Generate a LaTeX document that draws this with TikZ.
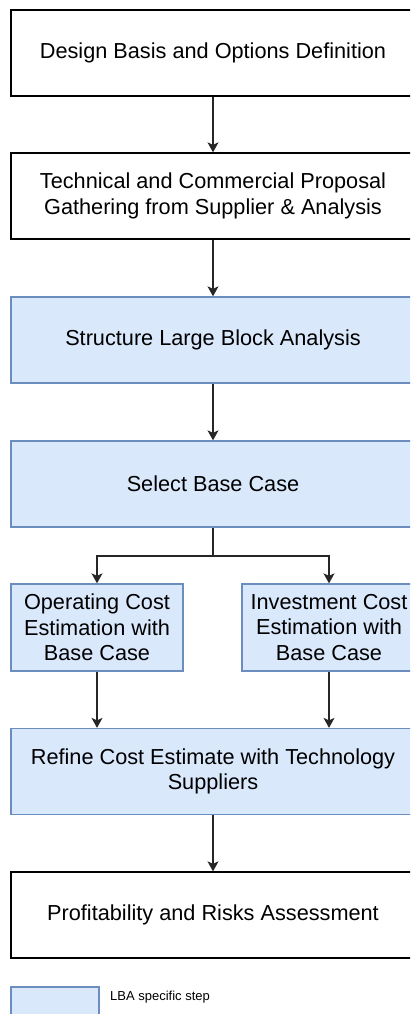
\documentclass[tikz,border=0pt]{standalone}
\usepackage{fontspec}
\setmainfont{Liberation Sans}
\usetikzlibrary{arrows.meta}
\definecolor{lbafill}{HTML}{DAE8FC}
\definecolor{lbaline}{HTML}{6C8EBF}
\tikzset{
  stepbox/.style={draw=black, fill=white, line width=1.3pt, rectangle,
    minimum width=404pt, minimum height=86pt, align=center, inner sep=0pt,
    font=\fontsize{21.7}{25.6}\selectfont},
  lbabox/.style={stepbox, draw=lbaline, fill=lbafill},
  flow/.style={draw=black!85, line width=1.3pt,
    -{Stealth[length=10pt, width=11pt, inset=2.5pt]}},
  plainline/.style={draw=black!85, line width=1.3pt}
}
\begin{document}
\begin{tikzpicture}[x=1pt, y=-1pt]
  \useasboundingbox (0,0) rectangle (410,1014);
  \begin{scope}
    \clip (0,0) rectangle (410,1014);
    % main process steps
    \node[stepbox] (design) at (213,53) {Design Basis and Options Definition};
    \node[stepbox] (proposal) at (213,196) {Technical and Commercial Proposal\\Gathering from Supplier \& Analysis};
    \node[lbabox] (structure) at (213,340) {Structure Large Block Analysis};
    \node[lbabox] (select) at (213,484) {Select Base Case};
    \node[lbabox, minimum width=172pt, minimum height=87pt] (opex) at (97,627.5) {Operating Cost\\Estimation with\\Base Case};
    \node[lbabox, minimum width=174pt, minimum height=87pt] (capex) at (329,627.5) {Investment Cost\\Estimation with\\Base Case};
    \node[lbabox] (refine) at (213,771.5) {Refine Cost Estimate with Technology\\Suppliers};
    \node[stepbox] (profit) at (213,915) {Profitability and Risks Assessment};
    % legend
    \node[lbabox, minimum width=88pt, minimum height=58pt] (legendbox) at (55,1016) {};
    \node[anchor=west, inner sep=0pt, font=\fontsize{13}{15}\selectfont] (legendtext) at (110,997) {LBA specific step};
    % connectors
    \coordinate (fork) at (213,556);
    \draw[flow] (design) -- (proposal);
    \draw[flow] (proposal) -- (structure);
    \draw[flow] (structure) -- (select);
    \draw[plainline] (select) -- (fork);
    \draw[flow] (fork) -| (opex);
    \draw[flow] (fork) -| (capex);
    \draw[flow] (opex.south) -- (opex.south |- refine.north);
    \draw[flow] (capex.south) -- (capex.south |- refine.north);
    \draw[flow] (refine) -- (profit);
  \end{scope}
\end{tikzpicture}
\end{document}
